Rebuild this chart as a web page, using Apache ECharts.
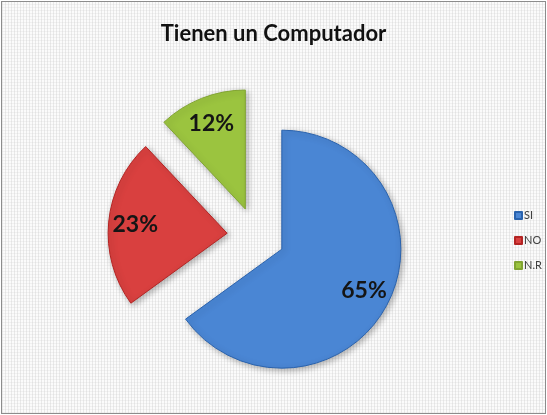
<!DOCTYPE html>
<html><head><meta charset="utf-8">
<script src="https://cdn.jsdelivr.net/npm/echarts@6/dist/echarts.min.js"></script>
<style>
html,body{margin:0;padding:0;background:#fff;}
#c{position:absolute;left:1px;top:1px;width:543px;height:411px;border:1px solid #8c8c8c;
background-color:#fbfbfb;
background-image:repeating-linear-gradient(90deg,rgba(200,200,200,0.35) 0px,rgba(200,200,200,0.35) 1px,transparent 1px,transparent 3px),
repeating-linear-gradient(0deg,rgba(210,210,210,0.25) 0px,rgba(210,210,210,0.25) 1px,transparent 1px,transparent 3px);}
</style></head>
<body><div id="c"></div>
<script>
const categories = ['SI', 'NO', 'N.R'];
const values = [65, 23, 12];
const colors = ['#4a86d4', '#d9403f', '#9bc43f'];

const chart = echarts.init(document.getElementById('c'));
const center = [254, 234];
const R = 119;
const fillData = categories.map((n, i) => ({
  name: n, value: values[i], selected: true,
  itemStyle: {color: colors[i], borderColor: echarts.color.modifyHSL(colors[i], null, null, 0.42), borderWidth: 1}
}));
const labelData = categories.map((n, i) => ({name: n, value: values[i], selected: true}));
chart.setOption({
  animation: false,
  title: {text: 'Tienen un Computador', left: 'center', top: 16,
    textStyle: {fontFamily: 'Lato', fontWeight: 'bold', fontSize: 22, color: '#111'}},
  legend: {orient: 'vertical', left: 507, top: 203, itemWidth: 7, itemHeight: 7, itemGap: 14,
    icon: 'rect', data: categories,
    textStyle: {fontFamily: 'Lato', fontSize: 11, color: '#404040', padding: [0, 0, 0, -3]}},
  series: [
    {type: 'pie', name: 'fill', center: center, radius: [0, R], startAngle: 90, clockwise: true,
     selectedMode: 'multiple', selectedOffset: 29, silent: true,
     label: {show: false}, labelLine: {show: false},
     itemStyle: {shadowBlur: 6, shadowColor: 'rgba(0,0,0,0.3)', shadowOffsetX: 2, shadowOffsetY: 2},
     color: colors, data: fillData},
    {type: 'pie', name: 'labels', center: center, radius: [R * 0.5, R], startAngle: 90, clockwise: true,
     selectedMode: 'multiple', selectedOffset: 29, silent: true, legendHoverLink: false,
     itemStyle: {color: 'rgba(0,0,0,0)'},
     label: {show: true, position: 'inside', formatter: '{d}%', fontFamily: 'Lato', fontWeight: 'bold',
       fontSize: 23, color: '#151515'},
     labelLine: {show: false}, data: labelData}
  ]
});
</script></body></html>
